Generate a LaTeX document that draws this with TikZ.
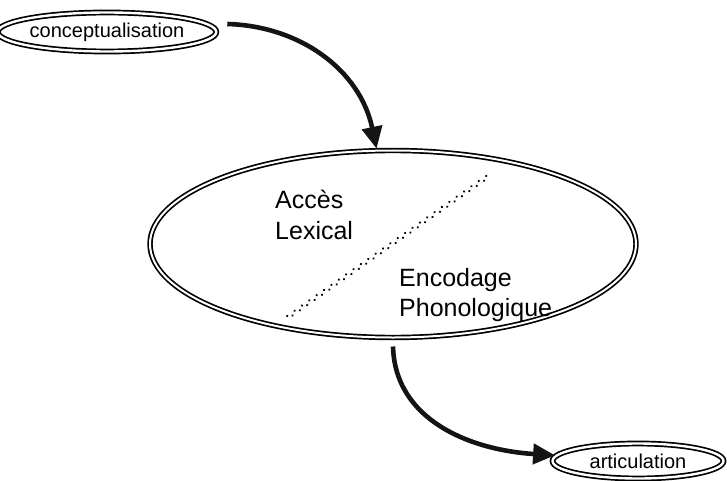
\documentclass[tikz,border=0pt]{standalone}
\usepackage{fontspec}
\setmainfont{Liberation Sans}
\usetikzlibrary{shapes.geometric,arrows.meta}
\begin{document}
\begin{tikzpicture}[x=1pt,y=-1pt,
  oval/.style={ellipse, draw, double, line width=1.7pt, double distance=2.4pt,
    inner sep=0pt, outer sep=0pt},
  smalltext/.style={font=\fontsize{20}{24}\selectfont},
  bigtext/.style={font=\fontsize{25}{30}\selectfont, anchor=base west, inner sep=0pt},
  flow/.style={line width=4.6pt, draw=black!92,
    -{Triangle[length=22pt,width=20pt]}},
  sepline/.style={line width=2.5pt, line cap=round, dash pattern=on 0.01pt off 9pt}
]
\useasboundingbox (0,0) rectangle (727,481);

% the three stages
\node[oval, smalltext, minimum width=184pt, minimum height=39pt] (concept) at (107,32) {conceptualisation};
\node[oval, double distance=2pt, minimum width=486pt, minimum height=187pt] (lex) at (393,244) {};
\node[oval, smalltext, minimum width=171pt, minimum height=35pt] (artic) at (638,461) {articulation};

% dotted divider inside the formulation stage
\draw[sepline] (287.2,315.9) -- (486.2,175.9);
\draw[sepline, dash phase=4.5pt] (288.8,318.1) -- (487.8,178.1);

% sub-process labels
\node[bigtext] (acces) at (275,208) {Accès};
\node[bigtext] (lexical) at (275,239) {Lexical};
\node[bigtext] (encodage) at (399,286) {Encodage};
\node[bigtext] (phono) at (399,316) {Phonologique};

% flow between stages
\draw[flow] ([xshift=11pt,yshift=8pt]concept.east) .. controls (300,26) and (360,70) .. ([yshift=2pt]lex.100);
\draw[flow] ([yshift=-9pt]lex.south) .. controls (395,420) and (470,450) .. ([xshift=-2pt]artic.176);
\end{tikzpicture}
\end{document}
